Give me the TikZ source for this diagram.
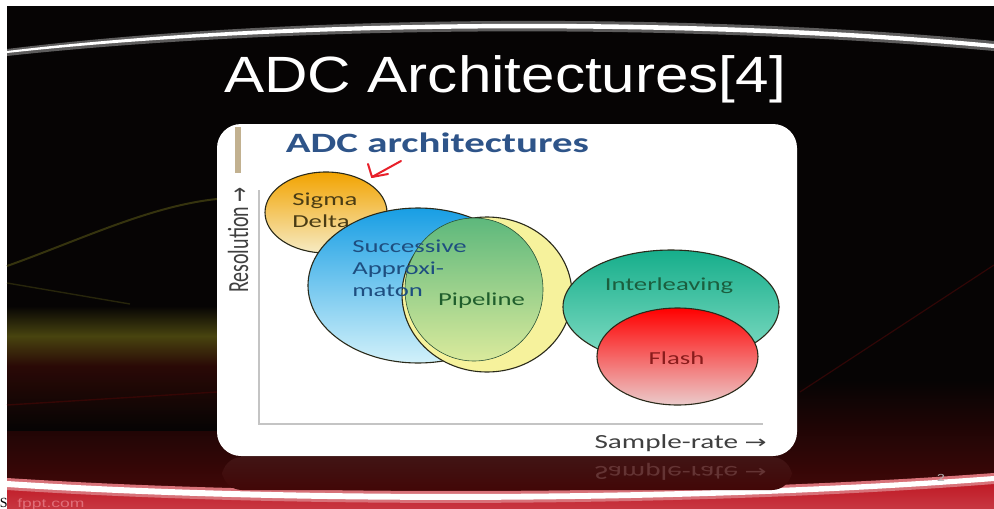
\documentclass[tikz,border=0pt]{standalone}
\usepackage{fontspec}
\setmainfont{Carlito}
\newfontfamily\titlefont{Liberation Sans}
\newfontfamily\arrowfont{DejaVu Sans}
\newfontfamily\seriffont{Liberation Serif}

\definecolor{bgblack}{HTML}{060404}
\definecolor{maroon}{HTML}{420707}
\definecolor{footred}{HTML}{BE1420}
\definecolor{olivebrt}{HTML}{48440F}
\definecolor{olivedim}{HTML}{35330E}
\definecolor{brownstreak}{HTML}{2A0906}
\definecolor{tanbar}{HTML}{C2B190}
\definecolor{headblue}{HTML}{2E5489}
\definecolor{axisline}{HTML}{C4C4C4}
\definecolor{axistext}{HTML}{404040}
\definecolor{rimline}{HTML}{2A2A1A}
\definecolor{sdtop}{HTML}{F2A300}
\definecolor{sdbot}{HTML}{F6EBC4}
\definecolor{sdtext}{HTML}{4A3C14}
\definecolor{satop}{HTML}{189EE4}
\definecolor{samid}{HTML}{36AEEA}
\definecolor{sabot}{HTML}{D2F1FA}
\definecolor{satext}{HTML}{1E4E80}
\definecolor{pipeyel}{HTML}{F6F29C}
\definecolor{pipetop}{HTML}{5DB87C}
\definecolor{pipebot}{HTML}{DAEA9C}
\definecolor{pipetext}{HTML}{1F5E2C}
\definecolor{iltop}{HTML}{16AE8B}
\definecolor{ilbot}{HTML}{86DEC6}
\definecolor{iltext}{HTML}{1B5E3E}
\definecolor{flmid}{HTML}{F31212}
\definecolor{flbot}{HTML}{EBCBCB}
\definecolor{fltext}{HTML}{8A1C1C}
\definecolor{penred}{HTML}{E8202A}
\definecolor{fpptpink}{HTML}{E0707A}

\tikzset{
  bubble/.style={draw=rimline, line width=1.1pt},
  lbl/.style={font=\fontsize{18.3}{22}\selectfont, xscale=1.46, inner sep=0pt},
  axislbl/.style={font=\fontsize{20}{24}\selectfont, text=axistext, inner sep=0pt},
}
\newcommand{\rarrow}{{\arrowfont\fontsize{18}{18}\selectfont →}}

\begin{document}
\begin{tikzpicture}[x=1pt,y=-1pt]
\useasboundingbox (0,0) rectangle (994,509);

% page and slide background
\fill[white] (0,0) rectangle (994,509);
\fill[bgblack] (7,6) rectangle (994,509);
\shade[top color=bgblack, bottom color=maroon] (7,380) rectangle (994,492);

% light streaks on the left
\shade[top color=bgblack, bottom color=olivebrt] (7,306) rectangle (217,336);
\shade[top color=olivebrt, bottom color=brownstreak] (7,336) rectangle (217,366);
\shade[top color=brownstreak, bottom color=bgblack] (7,366) rectangle (217,430);
\draw[olivedim, line width=2pt] (7,266) .. controls (80,240) and (150,206) .. (217,199);
\draw[olivedim!70!bgblack, line width=1.4pt] (7,283) -- (130,304);
\draw[brownstreak!80!red!60!bgblack, line width=1.4pt] (7,405) -- (217,392);
\draw[maroon!70!bgblack, line width=1.2pt] (800,392) -- (994,265);

% top swoosh
\fill[white!35!bgblack] (7,49) .. controls (300,13) and (700,13) .. (994,41)
  -- (994,51) .. controls (700,24) and (300,24) .. (7,56) -- cycle;
\fill[white] (7,51) .. controls (300,16) and (700,16) .. (994,44)
  -- (994,48) .. controls (700,21) and (300,21) .. (7,53) -- cycle;

% footer band and swoosh
\shade[top color=footred, bottom color=footred!85!white]
  (7,484) .. controls (300,503) and (700,501) .. (994,478) -- (994,509) -- (7,509) -- cycle;
\fill[white!40!footred] (7,478) .. controls (300,497) and (700,495) .. (994,473)
  -- (994,484) .. controls (700,507) and (300,509) .. (7,490) -- cycle;
\fill[white] (7,481) .. controls (300,500) and (700,498) .. (994,476)
  -- (994,481) .. controls (700,504) and (300,506) .. (7,487) -- cycle;

% title
\node[font=\titlefont\fontsize{51}{51}\selectfont, text=white, xscale=1.18,
      anchor=base, inner sep=0pt] (title) at (505,92) {ADC Architectures[4]};

% faint reflection under the card
\shade[top color=white!7!maroon!80!bgblack, bottom color=maroon, rounded corners=20pt] (222,457) rectangle (792,490);
\node[axislbl, text=white!18!maroon, xscale=1.46, yscale=-1, anchor=base east]
  (mirror) at (767,466) {Sample-rate \rarrow};

% card
\fill[white, rounded corners=24pt] (217,124) rectangle (797,456);

% heading and marker bar
\fill[tanbar] (235,127) rectangle (241,173);
\node[font=\bfseries\fontsize{28}{28}\selectfont, text=headblue, xscale=1.46,
      anchor=base, inner sep=0pt] (head) at (437.5,152) {ADC architectures};

% axes
\coordinate (origin) at (259,424);
\coordinate (ytop) at (259,190);
\coordinate (xend) at (763,424);
\draw[axisline, line width=1.6pt] (ytop) -- (origin) -- (xend);
\node[axislbl, rotate=90, yscale=1.46] (ylab) at (238,240) {Resolution \rarrow};
\node[axislbl, xscale=1.46, anchor=base east] (xlab) at (767,448) {Sample-rate \rarrow};

% hand-drawn pointer
\draw[penred, line width=2pt, line cap=round, line join=round]
  (368,164) -- (372,177) -- (401,161);
\draw[penred, line width=2pt, line cap=round] (372,177) -- (388,174);

% sigma delta
\path[bubble, top color=sdtop, bottom color=sdbot] (326,212.5) ellipse [x radius=61pt, y radius=40.5pt];
\node[lbl, text=sdtext, anchor=base west] (sd1) at (292,205) {Sigma};
\node[lbl, text=sdtext, anchor=base west] (sd2) at (292,227) {Delta};

% successive approximation
\path[bubble, top color=satop, middle color=samid, bottom color=sabot] (418,285.5) ellipse [x radius=110pt, y radius=77.5pt];

% pipeline: yellow halo with a green disc in front
\path[bubble, fill=pipeyel] (487,294.5) ellipse [x radius=85pt, y radius=77.5pt];
\path[draw=pipetop!45!black, line width=0.6pt, top color=pipetop, bottom color=pipebot]
  (474,289.5) ellipse [x radius=69pt, y radius=71.5pt];

% labels of the two overlapping bubbles
\node[lbl, text=satext, anchor=base west] (sa1) at (352,252) {Successive};
\node[lbl, text=satext, anchor=base west] (sa2) at (352,274) {Approxi-};
\node[lbl, text=satext, anchor=base west] (sa3) at (352,296) {maton};
\node[lbl, text=pipetext, anchor=base] (pipe) at (481.5,305) {Pipeline};

% interleaving and flash
\path[bubble, top color=iltop, bottom color=ilbot] (671,307) ellipse [x radius=108pt, y radius=57pt];
\node[lbl, text=iltext, anchor=base] (il) at (669,290) {Interleaving};
\path[bubble, top color=red, middle color=flmid, bottom color=flbot] (677.5,356.5) ellipse [x radius=80.5pt, y radius=48.5pt];
\node[lbl, text=fltext, anchor=base] (flash) at (676.5,364) {Flash};

% footer texts
\node[font=\fontsize{11}{11}\selectfont, text=white!70!black, xscale=1.46, anchor=base, inner sep=0pt]
  (pagenum) at (941,481) {2};
\node[font=\titlefont\fontsize{12}{12}\selectfont, text=fpptpink, xscale=1.46, anchor=base west, inner sep=0pt]
  (fppt) at (17,507) {fppt.com};
\node[font=\seriffont\fontsize{14}{14}\selectfont, text=black, anchor=base, inner sep=0pt]
  (stray) at (3.8,507) {S};
\end{tikzpicture}
\end{document}
